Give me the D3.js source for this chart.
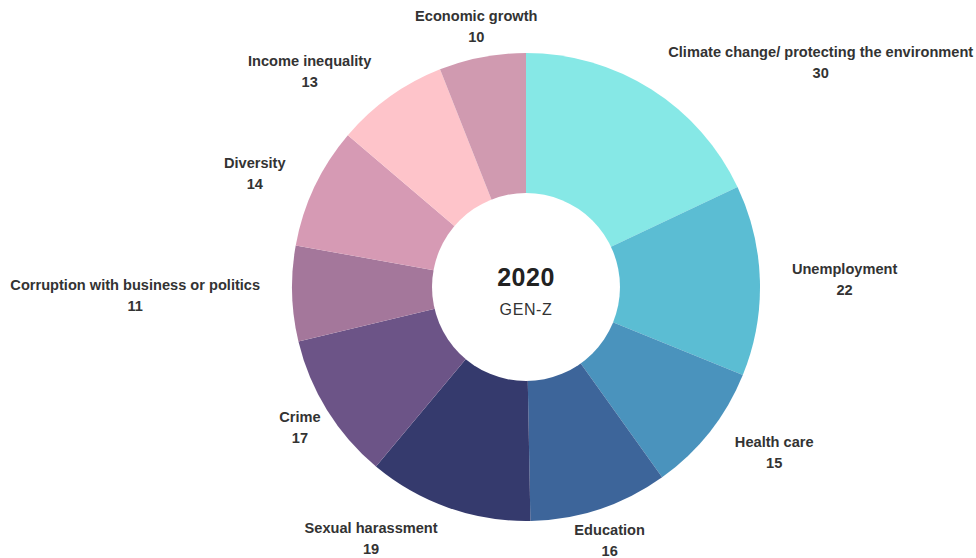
<!DOCTYPE html>
<html>
<head>
<meta charset="utf-8">
<script src="https://cdn.jsdelivr.net/npm/d3@7"></script>
<style>
  html, body { margin: 0; padding: 0; background: #fff; }
  svg { display: block; }
</style>
</head>
<body>
<svg id="chart" width="976" height="558"></svg>
<script>
// Top concerns, Gen-Z, 2020
const categories = [
  "Climate change/ protecting the environment",
  "Unemployment",
  "Health care",
  "Education",
  "Sexual harassment",
  "Crime",
  "Corruption with business or politics",
  "Diversity",
  "Income inequality",
  "Economic growth"
];
const values = [30, 22, 15, 16, 19, 17, 11, 14, 13, 10];
const colors = [
  "#86e8e6", "#5bbdd3", "#4a93bd", "#3d659a", "#353a6d",
  "#6c5487", "#a4779b", "#d69ab4", "#fec4ca", "#d09ab0"
];
const centerTitle = "2020";
const centerSubtitle = "GEN-Z";

const data = categories.map((c, i) => ({ label: c, value: values[i], color: colors[i] }));

const svg = d3.select("#chart");
const cx = 526, cy = 287;
const outerR = 234, innerR = 94, labelR = 266;
const font = "'Liberation Sans', Arial, sans-serif";

const g = svg.append("g").attr("transform", `translate(${cx},${cy})`);

const pie = d3.pie().value(d => d.value).sort(null);
const arc = d3.arc().innerRadius(0).outerRadius(outerR);
const arcs = pie(data);

g.selectAll("path.slice")
  .data(arcs)
  .join("path")
  .attr("class", "slice")
  .attr("d", arc)
  .attr("fill", d => d.data.color);

// white hole
g.append("circle").attr("r", innerR).attr("fill", "#fff");

g.append("text")
  .attr("y", -1)
  .attr("text-anchor", "middle")
  .attr("font-family", font)
  .attr("font-weight", "bold")
  .attr("font-size", 25)
  .attr("letter-spacing", 0.5)
  .attr("fill", "#222")
  .text(centerTitle);

g.append("text")
  .attr("y", 28)
  .attr("text-anchor", "middle")
  .attr("font-family", font)
  .attr("font-size", 16)
  .attr("letter-spacing", 0.6)
  .attr("fill", "#333")
  .text(centerSubtitle);

// does a box (in pie coordinates) touch the pie disc?
function hitsPie(x0, y0, x1, y1) {
  const nx = Math.max(x0, Math.min(0, x1));
  const ny = Math.max(y0, Math.min(0, y1));
  return Math.hypot(nx, ny) < outerR;
}

// outside labels: name + value, centred on the mid-angle point,
// pushed sideways when the block would sit on the pie
g.selectAll("g.label")
  .data(arcs)
  .join("g")
  .attr("class", "label")
  .each(function(d) {
    const mid = (d.startAngle + d.endAngle) / 2;
    const s = Math.sin(mid);
    const ax = s * labelR;
    const ay = -Math.cos(mid) * labelR;
    const grp = d3.select(this).attr("transform", `translate(${ax},${ay})`);
    const line = (txt, y) => grp.append("text")
      .attr("text-anchor", "middle")
      .attr("y", y)
      .attr("font-family", font)
      .attr("font-weight", "bold")
      .attr("font-size", 14.6)
      .attr("fill", "#333")
      .text(txt);
    const t1 = line(d.data.label, -5);
    const t2 = line(d.data.value, 16);
    const w = Math.max(t1.node().getComputedTextLength(), t2.node().getComputedTextLength());
    const top = ay - 20, bottom = ay + 20;
    let shift = 0;
    if (hitsPie(ax - w / 2, top, ax + w / 2, bottom)) shift = s > 0 ? w / 2 : -w / 2;
    t1.attr("x", shift);
    t2.attr("x", shift);
  });
</script>
</body>
</html>
